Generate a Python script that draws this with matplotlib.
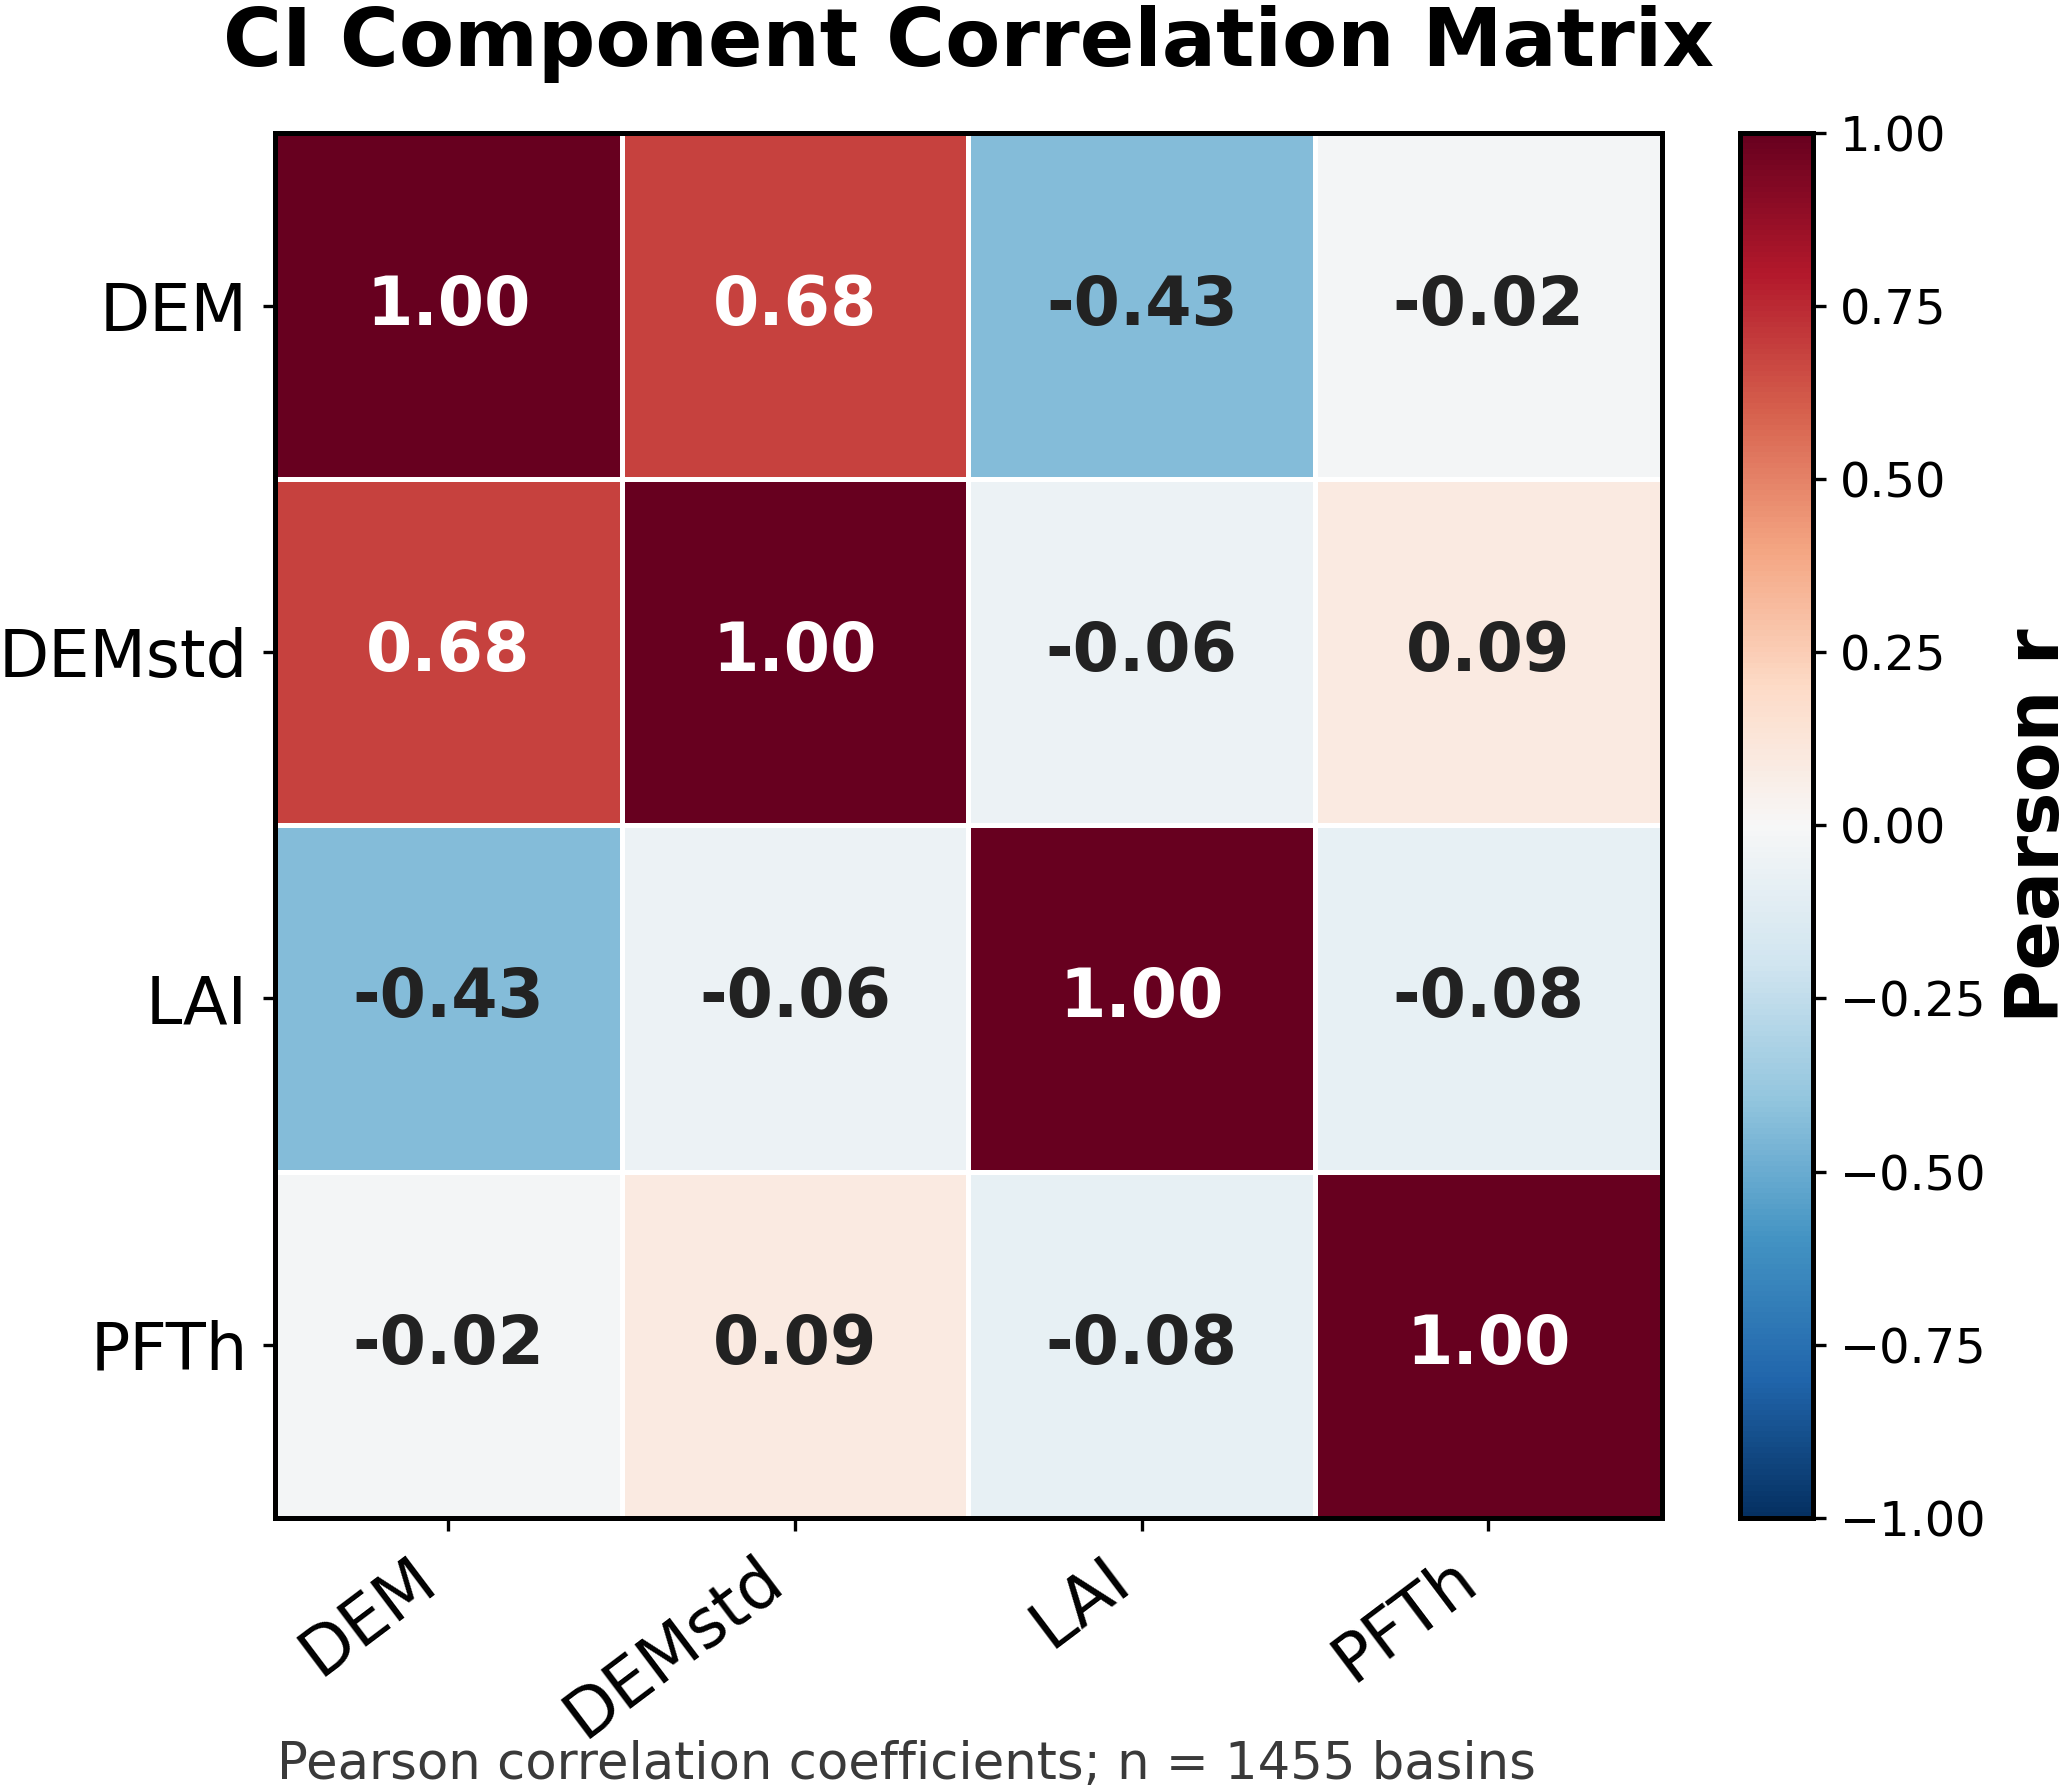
import numpy as np
import matplotlib
matplotlib.use("Agg")
import matplotlib.pyplot as plt

# component names and correlation values
components = ["DEM", "DEMstd", "LAI", "PFTh"]
row_dem = [1.00, 0.68, -0.43, -0.02]
row_demstd = [0.68, 1.00, -0.06, 0.09]
row_lai = [-0.43, -0.06, 1.00, -0.08]
row_pfth = [-0.02, 0.09, -0.08, 1.00]
cbar_ticks = [-1.00, -0.75, -0.50, -0.25, 0.00, 0.25, 0.50, 0.75, 1.00]
n_basins = 1455

corr = np.array([row_dem, row_demstd, row_lai, row_pfth])

fig = plt.figure(figsize=(2067 / 300, 1792 / 300), dpi=300)
ax = fig.add_axes([0.133, 0.153, 0.671, 0.773])
cax = fig.add_axes([0.842, 0.153, 0.035, 0.773])

mesh = ax.pcolormesh(corr, cmap="RdBu_r", vmin=-1, vmax=1,
                     edgecolors="white", linewidth=1.2)
ax.set_xlim(0, len(components))
ax.set_ylim(len(components), 0)

ax.set_xticks(np.arange(len(components)) + 0.5)
ax.set_yticks(np.arange(len(components)) + 0.5)
ax.set_xticklabels(components, rotation=37, ha="right", fontsize=16)
ax.set_yticklabels(components, fontsize=15.7)
ax.tick_params(length=3, width=0.8)
for s in ax.spines.values():
    s.set_linewidth(1.2)
    s.set_color("black")

for i in range(len(components)):
    for j in range(len(components)):
        v = corr[i, j]
        col = "white" if abs(v) > 0.5 else "#222222"
        ax.text(j + 0.5, i + 0.5, f"{v:.2f}", ha="center", va="center",
                fontsize=16, fontweight="bold", color=col)

ax.set_title("CI Component Correlation Matrix", fontsize=19.3, fontweight="bold", pad=16)

cb = fig.colorbar(mesh, cax=cax, ticks=cbar_ticks)
cb.ax.tick_params(labelsize=11.5, length=3, width=0.8)
cb.outline.set_linewidth(1.2)
cb.set_label("Pearson r", fontsize=17.5, fontweight="bold", labelpad=4)

fig.text(0.134, 0.007, f"Pearson correlation coefficients; n = {n_basins} basins",
         fontsize=12.3, color="#3a3a3a", ha="left", va="baseline")

fig.savefig("out.png", dpi=300)
